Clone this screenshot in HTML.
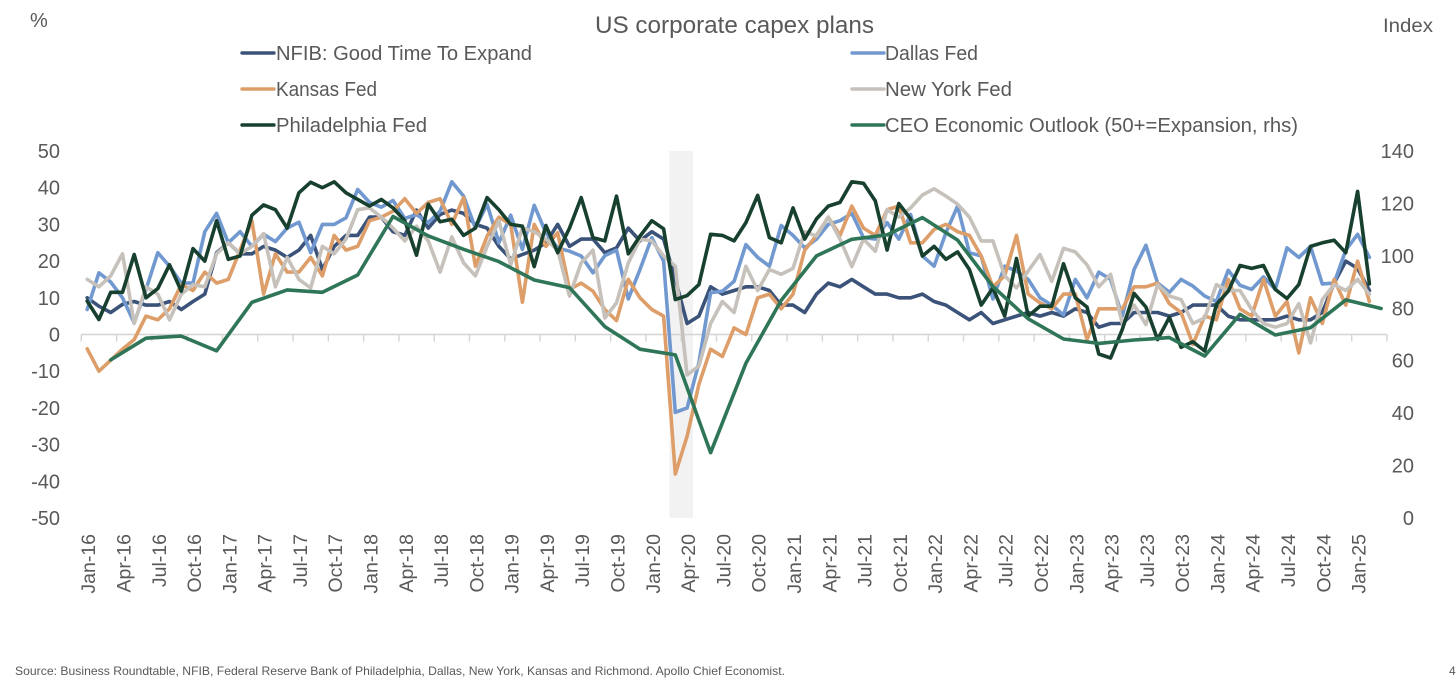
<!DOCTYPE html>
<html lang="en">
<head>
<meta charset="utf-8">
<title>US corporate capex plans</title>
<style>
html,body{margin:0;padding:0;background:#fff;width:1456px;height:684px;overflow:hidden}
svg{display:block}
text{font-family:"Liberation Sans",sans-serif;fill:#595959}
</style>
</head>
<body>
<svg id="chart" xmlns="http://www.w3.org/2000/svg" width="1456" height="684" viewBox="0 0 1456 684">
  <text x="595" y="33" font-size="24" textLength="279" lengthAdjust="spacingAndGlyphs">US corporate capex plans</text>
  <text x="30" y="27" font-size="20">%</text>
  <text x="1383" y="32" font-size="19" textLength="50" lengthAdjust="spacingAndGlyphs">Index</text>
  <text x="15" y="675" font-size="12" textLength="770" lengthAdjust="spacingAndGlyphs">Source: Business Roundtable, NFIB, Federal Reserve Bank of Philadelphia, Dallas, New York, Kansas and Richmond. Apollo Chief Economist.</text>
  <text x="1449" y="675" font-size="12">4</text>

  <g>
    <g>
      <line x1="242" y1="53" x2="274" y2="53" stroke="#3b5279" stroke-width="3.4" stroke-linecap="round"/>
      <text x="276" y="60" font-size="20" textLength="256" lengthAdjust="spacingAndGlyphs">NFIB: Good Time To Expand</text>
    </g>
    <g>
      <line x1="242" y1="89" x2="274" y2="89" stroke="#dd9e69" stroke-width="3.4" stroke-linecap="round"/>
      <text x="276" y="96" font-size="20" textLength="101" lengthAdjust="spacingAndGlyphs">Kansas Fed</text>
    </g>
    <g>
      <line x1="242" y1="125" x2="274" y2="125" stroke="#17402f" stroke-width="3.4" stroke-linecap="round"/>
      <text x="276" y="132" font-size="20" textLength="151" lengthAdjust="spacingAndGlyphs">Philadelphia Fed</text>
    </g>
    <g>
      <line x1="852" y1="53" x2="884" y2="53" stroke="#7199cf" stroke-width="3.4" stroke-linecap="round"/>
      <text x="885" y="60" font-size="20" textLength="93" lengthAdjust="spacingAndGlyphs">Dallas Fed</text>
    </g>
    <g>
      <line x1="852" y1="89" x2="884" y2="89" stroke="#c6c1ba" stroke-width="3.4" stroke-linecap="round"/>
      <text x="885" y="96" font-size="20" textLength="127" lengthAdjust="spacingAndGlyphs">New York Fed</text>
    </g>
    <g>
      <line x1="852" y1="125" x2="884" y2="125" stroke="#2f7558" stroke-width="3.4" stroke-linecap="round"/>
      <text x="885" y="132" font-size="20" textLength="413" lengthAdjust="spacingAndGlyphs">CEO Economic Outlook (50+=Expansion, rhs)</text>
    </g>
  </g>

  <g id="shade-layer"></g>
  <g id="axis-layer"></g>
  <g id="series-layer"></g>
</svg>

<script>
const xTickLabels = ["Jan-16","Apr-16","Jul-16","Oct-16","Jan-17","Apr-17","Jul-17","Oct-17","Jan-18","Apr-18","Jul-18","Oct-18","Jan-19","Apr-19","Jul-19","Oct-19","Jan-20","Apr-20","Jul-20","Oct-20","Jan-21","Apr-21","Jul-21","Oct-21","Jan-22","Apr-22","Jul-22","Oct-22","Jan-23","Apr-23","Jul-23","Oct-23","Jan-24","Apr-24","Jul-24","Oct-24","Jan-25"];
const leftTicks = [50,40,30,20,10,0,-10,-20,-30,-40,-50];
const rightTicks = [140,120,100,80,60,40,20,0];
const monthCount = 111;
const monthsPerTick = 3;
const recessionStartMonth = 50;
const recessionEndMonth = 52;

const nfib = [10,7.7,6,8.2,9,8,8,9,6.8,9,11,22.3,25,22,22,24,23,21,23,27,17.7,24,27,27,32,32,28,27,
  33.9,29,32.7,33.9,33,30,29,24,20.6,21.8,23,25,30,24,26,26,22.3,23.6,29,25.5,28,26,
  15,3,5,13,11,12,13,13,12,8,8,6,11,14,13,15,13,11,
  11,10,10,11,9,8,6,4,6,3,4,5,6,5,
  6,5,7,6,2,3,3,6,6,6,5,6,8,8,8,5,4,4,4,4,5,4,4,6,14,20,18,12];

const dallas = [6.8,16.8,14.3,10,3.2,12.3,22.3,18.6,14,14,28,33,25,28,24,27.3,25.3,29,30.6,22.3,30,30,31.8,39.5,36,34.7,36.5,31.6,
  32.7,30.5,33.6,41.6,37.7,29,35.5,25,32.5,23.2,35.2,27.7,23.6,22.7,21.4,16.8,21.5,23,9.7,17.7,26.4,20,
  -21.2,-20,-7.7,11.4,11.8,14.5,24.5,21,18.6,29.7,27,23.6,26,30,31,33,26.4,26,30.5,26,32.7,21.4,18.6,27.7,35,22.3,21.4,9.7,18.6,17.3,15,10,
  8,5.3,15,10,17,15,5,17.7,24.3,14,11.5,15,13.2,10.5,9,17.5,13.4,12.3,15.7,12.3,23.6,21,24,13.8,14,23,27.3,21];

const kansas = [-3.9,-10,-7,-4,-1.4,5,4,7,13.6,12,17,14,15,23,31,11,22,17,17,21,16,27,23,24,31,32,33.6,37,
  33,36,37,30,37.3,18.6,26.8,32,30,8.8,30,24,27.7,12.3,14,11.8,6.8,3.8,15,10,6.8,5,
  -38,-27.7,-13.6,-4,-6,1.8,0,10,11,7,11,23,27,32,27,35,29,27,34,35,25,25,28.6,30,28,27,21.4,13,16,27,11,8.6,
  7,11,11,-1.4,7,7,7,13,13,14,8.4,6,-2.7,5,4,15,7,5,15,5,9,-5,10,3,15,8,20,9];

const newYork = [15,13,16,22,3,13,11,4,11,13.6,13,22,25,22,24,27.5,13,21,15,12.7,24,22,26,34,34.5,32,29,25.5,
  29.5,25.5,17,26.6,19.5,16,24,31,19,29,28,26,23,10.5,19.5,23,4.5,8.6,19.5,26,25.5,21.4,
  18.6,-11,-8.6,3,9,6,18.6,12,17.7,16.4,18,28,26.8,32,26,18.5,26,22.7,34,32,34.5,38,39.7,37.7,35.5,32,25.5,25.5,16,12.7,17.3,21.8,
  14.5,23.5,22.5,19,13,16.4,3,8,2.7,13.6,10.5,9.5,3,4.5,13.6,12,12,6.8,3,2,3,8.4,-2.3,9.5,13.6,12,15,11];

const philadelphia = [9.1,4.1,11.5,11.5,21.8,10,12.5,19,11.8,23.4,20,31,20.5,21.4,32.5,35.3,34,29,38.6,41.5,40,41.6,38.6,36.8,35,36.8,34.5,31,
  21.6,35.5,30.7,31.4,27,29,37.3,34,30,29.5,18.5,29.7,22.3,29,37.3,26.4,25.5,37.7,22,26.8,31,28.8,
  9.5,10.6,13.6,27.3,27,25.5,30.5,37.9,26.4,25,34.5,26,31.5,35,36,41.6,41.2,36.4,23,35.7,31.5,21.4,24,20.5,22.5,17.7,8,12.7,5,20.7,5,7.7,
  7.7,19.3,10,7.5,-5.3,-6.4,1.4,11.2,7.5,-1.4,4.7,-3.5,-2,-4.5,8.2,11.8,18.8,18,18.8,12.3,9.8,13.6,24,25,25.7,22.3,39,13.8];

const ceoFirstMonth = 2;
const ceoQuarterly = [60.3,68.6,69.4,63.8,82.3,87,86.1,92.7,115,107.6,102.5,97.8,90.8,87.9,73,64.4,62.2,24.9,59,83,100,106.3,108,114.6,106,88.3,76,68.3,66.6,67.9,68.8,61.8,77.7,69.8,72.6,83.2,79.9];

const plotLeft = 81.3;
const plotRight = 1387;
const plotTop = 151;
const plotBottom = 518;
const svgNS = 'http://www.w3.org/2000/svg';
const bandWidth = (plotRight - plotLeft) / monthCount;

function xBand(month) { return plotLeft + bandWidth * month; }
function xMonth(month) { return xBand(month) + bandWidth / 2; }
function yLeft(v) { return plotBottom - (v + 50) / 100 * (plotBottom - plotTop); }
function yRight(v) { return plotBottom - v / 140 * (plotBottom - plotTop); }
function make(tag, attrs) {
  const el = document.createElementNS(svgNS, tag);
  for (const k in attrs) el.setAttribute(k, attrs[k]);
  return el;
}

const shadeLayer = document.getElementById('shade-layer');
const axisLayer = document.getElementById('axis-layer');
const seriesLayer = document.getElementById('series-layer');

const shade = make('rect', {
  x: xBand(recessionStartMonth), y: plotTop,
  width: xBand(recessionEndMonth) - xBand(recessionStartMonth),
  height: plotBottom - plotTop, fill: '#f2f2f2'
});


shadeLayer.appendChild(shade);

const axisLine = make('line', { x1: plotLeft, x2: plotRight, y1: yLeft(0), y2: yLeft(0), stroke: '#d4d4d4', 'stroke-width': 1.4 });


axisLayer.appendChild(axisLine);

for (let m = 0; m <= monthCount; m += monthsPerTick) {
  const tick = make('line', { x1: xBand(m), x2: xBand(m), y1: yLeft(0), y2: yLeft(0) + 7, stroke: '#d4d4d4', 'stroke-width': 1.4 });
  
  
  axisLayer.appendChild(tick);
}

xTickLabels.forEach(function (label, k) {
  const x = xMonth(k * monthsPerTick) + 1;
  const t = make('text', { x: 0, y: 0, 'font-size': 19.5, 'text-anchor': 'end', transform: 'translate(' + (x + 7) + ',534) rotate(-90)' });
  t.textContent = label;
  
  
  axisLayer.appendChild(t);
});

leftTicks.forEach(function (v) {
  const t = make('text', { x: 60, y: yLeft(v) + 7, 'font-size': 20, 'text-anchor': 'end' });
  t.textContent = String(v);
  
  
  axisLayer.appendChild(t);
});

rightTicks.forEach(function (v) {
  const t = make('text', { x: 1414, y: yRight(v) + 7, 'font-size': 20, 'text-anchor': 'end' });
  t.textContent = String(v);
  
  
  axisLayer.appendChild(t);
});

function drawLine(points, color) {
  const d = points.map(function (p, i) { return (i ? 'L' : 'M') + p[0].toFixed(1) + ' ' + p[1].toFixed(1); }).join(' ');
  return make('path', { d: d, fill: 'none', stroke: color, 'stroke-width': 3.6, 'stroke-linejoin': 'round', 'stroke-linecap': 'round' });
}

const nfibLine = drawLine(nfib.map(function (v, i) { return [xMonth(i), yLeft(v)]; }), '#3b5279');


seriesLayer.appendChild(nfibLine);

const dallasLine = drawLine(dallas.map(function (v, i) { return [xMonth(i), yLeft(v)]; }), '#7199cf');


seriesLayer.appendChild(dallasLine);

const kansasLine = drawLine(kansas.map(function (v, i) { return [xMonth(i), yLeft(v)]; }), '#dd9e69');


seriesLayer.appendChild(kansasLine);

const newYorkLine = drawLine(newYork.map(function (v, i) { return [xMonth(i), yLeft(v)]; }), '#c6c1ba');


seriesLayer.appendChild(newYorkLine);

const philadelphiaLine = drawLine(philadelphia.map(function (v, i) { return [xMonth(i), yLeft(v)]; }), '#17402f');


seriesLayer.appendChild(philadelphiaLine);

const ceoLine = drawLine(ceoQuarterly.map(function (v, i) { return [xMonth(ceoFirstMonth + i * monthsPerTick), yRight(v)]; }), '#2f7558');


seriesLayer.appendChild(ceoLine);
</script>
</body>
</html>
